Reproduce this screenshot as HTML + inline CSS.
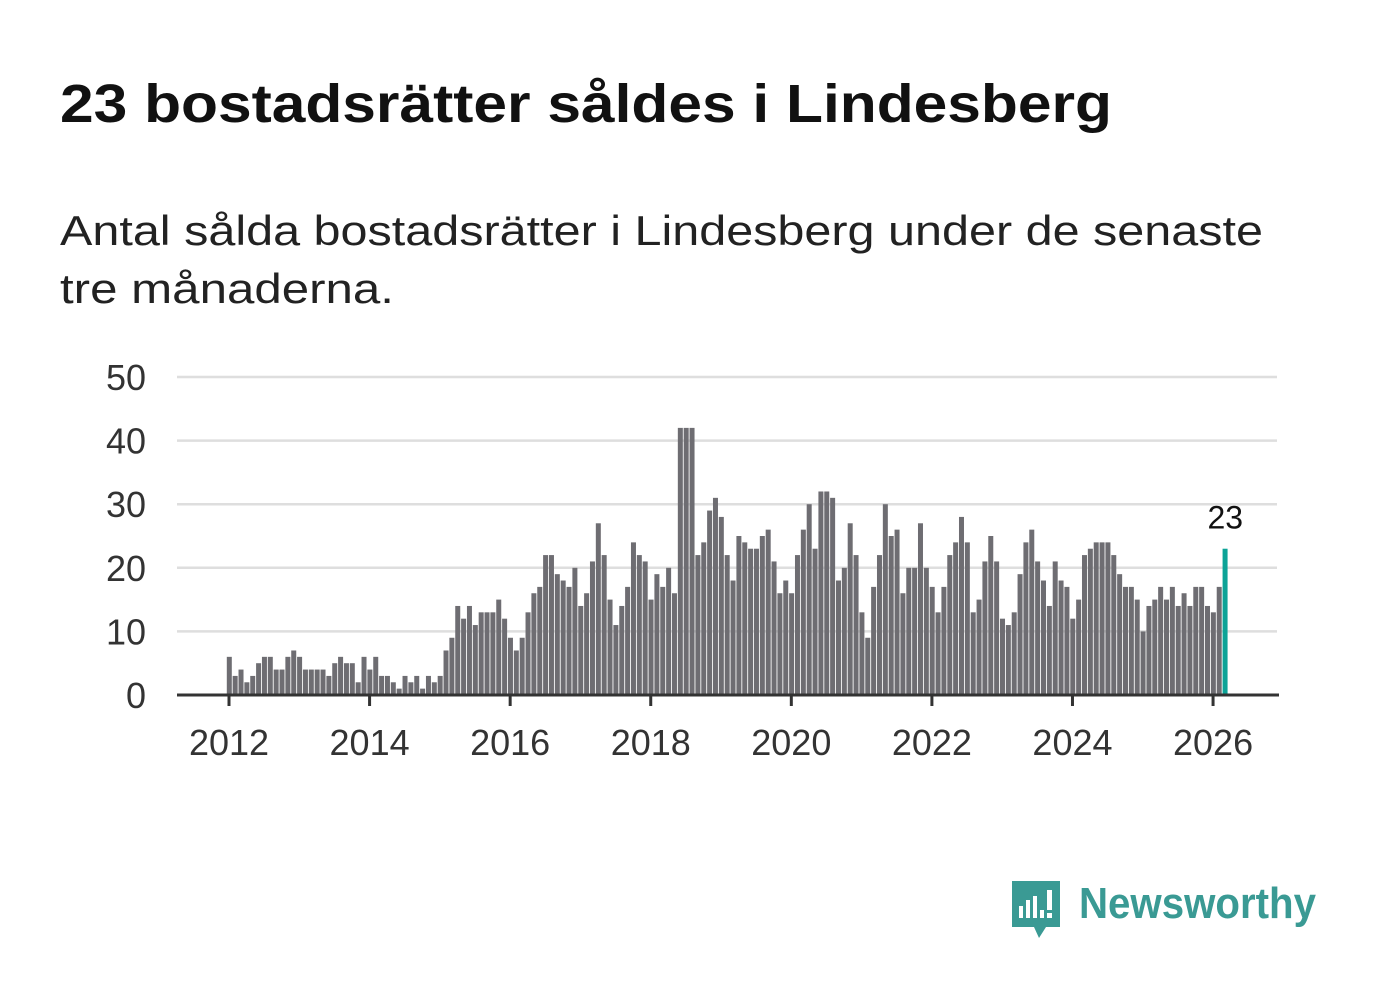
<!DOCTYPE html>
<html><head><meta charset="utf-8"><style>
html,body{margin:0;padding:0;background:#fff;}
svg{display:block;font-family:"Liberation Sans",sans-serif;}
</style></head><body>
<svg id="chart" width="1382" height="999" viewBox="0 0 1382 999">
<text x="60" y="122" font-size="54" font-weight="bold" fill="#111" textLength="1052" lengthAdjust="spacingAndGlyphs">23 bostadsrätter såldes i Lindesberg</text>
<text x="60" y="245" font-size="42" fill="#222" textLength="1203" lengthAdjust="spacingAndGlyphs">Antal sålda bostadsrätter i Lindesberg under de senaste</text>
<text x="60" y="303" font-size="42" fill="#222" textLength="334" lengthAdjust="spacingAndGlyphs">tre månaderna.</text>
<g id="grid"></g><g id="bars"></g><g id="axis"></g>
<g>
<path d="M1012 881 h48 v46 h-14 l-7 11 l-5 -11 h-22 z" fill="#3a9a94"/>
<rect x="1019" y="906" width="4" height="12" fill="#fff"/><rect x="1026" y="900" width="4" height="18" fill="#fff"/><rect x="1033" y="896" width="4" height="22" fill="#fff"/><rect x="1040" y="910" width="4" height="8" fill="#fff"/><rect x="1047" y="890" width="5" height="20" fill="#fff"/><rect x="1047" y="913" width="5" height="5" fill="#fff"/>
<text x="1079" y="918" font-size="44" font-weight="bold" fill="#3a9a94" textLength="237" lengthAdjust="spacingAndGlyphs">Newsworthy</text>
</g>
</svg>
<script>
const yTicks=[0,10,20,30,40,50];
const yearLabels=[2012,2014,2016,2018,2020,2022,2024,2026];
const startYear=2012;
const values2012=[6,3,4,2,3,5,6,6,4,4,6,7];
const values2013=[6,4,4,4,4,3,5,6,5,5,2,6];
const values2014=[4,6,3,3,2,1,3,2,3,1,3,2];
const values2015=[3,7,9,14,12,14,11,13,13,13,15,12];
const values2016=[9,7,9,13,16,17,22,22,19,18,17,20];
const values2017=[14,16,21,27,22,15,11,14,17,24,22,21];
const values2018=[15,19,17,20,16,42,42,42,22,24,29,31];
const values2019=[28,22,18,25,24,23,23,25,26,21,16,18];
const values2020=[16,22,26,30,23,32,32,31,18,20,27,22];
const values2021=[13,9,17,22,30,25,26,16,20,20,27,20];
const values2022=[17,13,17,22,24,28,24,13,15,21,25,21];
const values2023=[12,11,13,19,24,26,21,18,14,21,18,17];
const values2024=[12,15,22,23,24,24,24,22,19,17,17,15];
const values2025=[10,14,15,17,15,17,14,16,14,17,17,14];
const values2026=[13,17,23];
const values=[].concat(values2012,values2013,values2014,values2015,values2016,values2017,values2018,values2019,values2020,values2021,values2022,values2023,values2024,values2025,values2026);
const NS="http://www.w3.org/2000/svg";
const x=t=>229+(t-2012)*70.29;
const y=v=>695-v*6.36;
function mk(tag,attrs,parent){const e=document.createElementNS(NS,tag);for(const k in attrs)e.setAttribute(k,attrs[k]);parent.appendChild(e);return e;}
const grid=document.getElementById('grid'),bars=document.getElementById('bars'),axis=document.getElementById('axis');
yTicks.forEach(v=>{
  if(v>0){const l=mk('line',{x1:177,x2:1277,y1:y(v),y2:y(v),stroke:'#dedede','stroke-width':2.5},grid);
  
  }
  const t=mk('text',{x:146,y:y(v)+13,'font-size':36,'text-anchor':'end',fill:'#333'},axis);
  t.textContent=v;
  
  
});
values.forEach((v,i)=>{
  const last=i===values.length-1;
  const r=mk('rect',{x:x(startYear+i/12)-2.2,y:y(v),width:5,height:y(0)-y(v),fill:last?'#0ca397':'#6e6d72'},bars);
  
  
  if(last){const t=mk('text',{x:x(startYear+i/12)+0.5,y:y(v)-20,'font-size':32,'text-anchor':'middle',fill:'#111'},bars);
  t.textContent=v;
  
  }
});
const base=mk('line',{x1:177,x2:1279,y1:695,y2:695,stroke:'#333','stroke-width':3},axis);


yearLabels.forEach(yr=>{
  const tk=mk('line',{x1:x(yr),x2:x(yr),y1:695,y2:706,stroke:'#333','stroke-width':3},axis);
  
  
  const t=mk('text',{x:x(yr),y:755,'font-size':36,'text-anchor':'middle',fill:'#333'},axis);
  t.textContent=yr;
  
  
});
</script>
</body></html>
